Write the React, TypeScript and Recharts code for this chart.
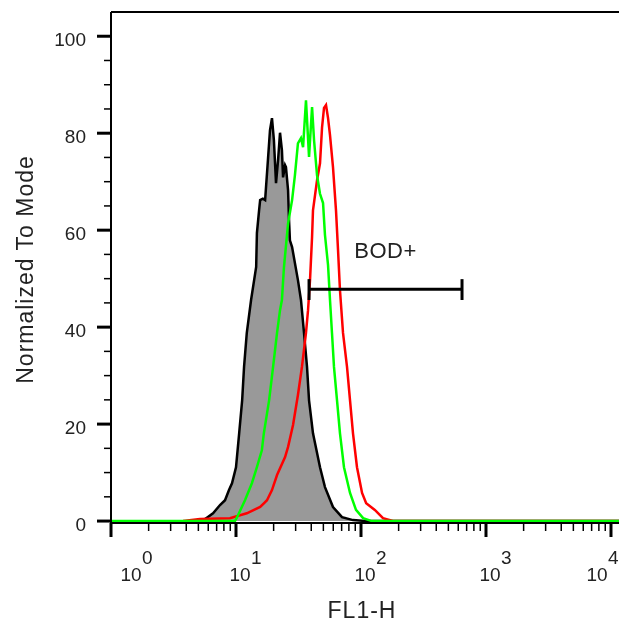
import { ComposedChart, Area, Line, XAxis, YAxis, ReferenceLine, Label } from "recharts";

const FONT = '"Liberation Sans", Arial, sans-serif';

// ---------- Data (FL1-H value -> % of mode) ----------

// unstained control, gray filled
const controlFL1 = [
    4.88, 5.65, 6.55, 7.45, 8.17, 8.79, 9.29, 10, 10.6, 11.2, 11.6, 12.2, 13.2, 14.5, 14.7,
    15.3, 15.6, 16.4, 17.1, 18.0, 18.7, 19.4, 20.1, 20.9, 21.7, 22.5, 23.3, 23.8, 24.7, 25.1,
    26.1, 26.5, 27.0, 28.1, 31.3, 33.1, 35.0, 37.0, 38.4, 41.3, 47.0, 51.5, 59.7, 70.5, 86.3,
    108, 11590,
];
const controlCount = [
    0, 0.4, 1.6, 3.3, 4.3, 6.4, 7.8, 11.1, 18.1, 24.9, 31.8, 38.8, 45.6, 52.4, 59.4,
    64.1, 66.2, 66.5, 66.2, 74.4, 80.6, 83.1, 78.6, 69.7, 74.4, 80.1, 76.5, 70.9, 73.4, 73.0,
    68.2, 62.7, 57.9, 56.5, 49.7, 45.6, 38.8, 31.8, 24.9, 18.1, 11.1, 7.0, 2.9, 0.8, 0.2,
    0, 0,
];

// green sample
const greenFL1 = [
    1, 9.82, 10.2, 11.8, 13.4, 14.7, 16.1, 16.7, 18.4, 19.8, 21.3, 22.5, 23.3, 24.2, 26.1,
    28.1, 29.6, 31.3, 33.1, 34.4, 36.3, 38.4, 40.6, 42.1, 44.5, 47.0, 49.7, 51.5, 54.5, 56.5,
    58.6, 60.8, 64.3, 67.9, 73.1, 81.7, 91.2, 104, 122, 11590,
];
const greenCount = [
    0, 0, 0.8, 4.3, 7.8, 11.1, 14.6, 18.1, 24.9, 31.8, 38.8, 43.5, 45.6, 52.4, 61.4,
    66.2, 71.3, 77.9, 79.0, 77.1, 86.8, 75.1, 85.4, 78.6, 71.3, 67.5, 65.6, 59.0, 52.8, 45.6,
    38.8, 31.8, 24.9, 18.1, 11.1, 5.8, 2.3, 0.6, 0, 0,
];

// red sample
const redFL1 = [
    3.77, 5.15, 8.95, 12.2, 15.6, 17.7, 19.4, 21.3, 24.7, 26.1, 28.6, 31.3, 33.7, 36.3, 37.7,
    39.1, 40.6, 41.3, 44.5, 47.0, 48.8, 50.6, 52.5, 54.5, 56.5, 59.7, 63.1, 65.5, 67.9, 71.8,
    77.3, 81.7, 86.3, 92.9, 102, 110, 129, 150, 180, 11590,
];
const redCount = [
    0, 0.4, 0.6, 1.6, 2.9, 4.3, 6.4, 9.5, 13.2, 15.3, 19.8, 26.0, 31.8, 38.8, 43.5,
    49.7, 58.6, 64.1, 70.3, 73.8, 81.2, 85.2, 85.8, 83.1, 79.6, 73.0, 64.1, 55.9, 47.6, 38.8,
    31.8, 24.9, 18.1, 11.1, 5.8, 3.7, 2.3, 0.6, 0, 0,
];

// BOD+ gate
const gateRange = [38.4, 643];
const gateLevel = 47.8;
const gateCap = [45.6, 49.9];

// ---------- Axes ----------

const X_DOMAIN = [1, 11590];
const Y_DOMAIN = [-0.4, 105];
const decades = [1, 10, 100, 1000, 10000];
const minorSteps = [2, 3, 4, 5, 6, 7, 8, 9];
const xTicks = [
    ...decades.slice(0, 4).flatMap(d => [d, ...minorSteps.map(m => m * d)]),
    10000,
];
const yTicks = [0, 5, 10, 15, 20, 25, 30, 35, 40, 45, 50, 55, 60, 65, 70, 75, 80, 85, 90, 95, 100];

const toPoints = (xs: number[], ys: number[]) => xs.map((x, i) => ({ fl1: x, count: ys[i] }));

const controlData = toPoints(controlFL1, controlCount);
const greenData = toPoints(greenFL1, greenCount);
const redData = toPoints(redFL1, redCount);

function XTick({ x, y, payload }: any) {
    const v = payload.value;
    const exp = Math.round(Math.log10(v));
    const major = Math.abs(Math.log10(v) - exp) < 1e-6;
    if (!major) {
        return <line x1={x} y1={y} x2={x} y2={y + 8} stroke="#000" strokeWidth={1.5} />;
    }
    // keep the first and last label inside the frame
    const cx = Math.min(Math.max(x + 4, 123), 589);
    return (
        <g>
            <line x1={x} y1={y} x2={x} y2={y + 14} stroke="#000" strokeWidth={3} />
            <text x={cx} y={y + 58} textAnchor="middle" fontSize={19} fill="#222" fontFamily={FONT}>10</text>
            <text x={cx + 11} y={y + 41} textAnchor="start" fontSize={19} fill="#222" fontFamily={FONT}>{exp}</text>
        </g>
    );
}

function YTick({ x, y, payload }: any) {
    const v = payload.value;
    const major = v % 20 === 0;
    return (
        <g>
            <line x1={x - (major ? 14 : 7)} y1={y} x2={x} y2={y} stroke="#000" strokeWidth={major ? 3 : 1.5} />
            {major && (
                <text x={x - 25} y={y + 10} textAnchor="end" fontSize={19} fill="#222" fontFamily={FONT}>{v}</text>
            )}
        </g>
    );
}

export default function App() {
    return (
        <div style={{ position: "fixed", left: 8, top: 8 }}>
            <ComposedChart width={611} height={615} margin={{ top: 4, right: 0, left: 0, bottom: 0 }}>
                <XAxis
                    type="number"
                    dataKey="fl1"
                    scale="log"
                    domain={X_DOMAIN}
                    allowDataOverflow
                    ticks={xTicks}
                    interval={0}
                    tick={<XTick />}
                    tickLine={false}
                    tickSize={0}
                    tickMargin={0}
                    height={100}
                    axisLine={{ stroke: "#000", strokeWidth: 2 }}
                >
                    <Label
                        content={({ viewBox }: any) => (
                            <text
                                x={viewBox.x + viewBox.width / 2 - 3}
                                y={viewBox.y + 95}
                                textAnchor="middle"
                                fontSize={23}
                                letterSpacing={1}
                                fill="#222"
                                fontFamily={FONT}
                            >
                                FL1-H
                            </text>
                        )}
                    />
                </XAxis>
                <YAxis
                    type="number"
                    domain={Y_DOMAIN}
                    allowDataOverflow
                    ticks={yTicks}
                    interval={0}
                    tick={<YTick />}
                    tickLine={false}
                    tickSize={0}
                    tickMargin={0}
                    width={103}
                    axisLine={{ stroke: "#000", strokeWidth: 2 }}
                >
                    <Label
                        content={({ viewBox }: any) => {
                            const lx = viewBox.x + 25;
                            const ly = viewBox.y + viewBox.height / 2 + 2;
                            return (
                                <text
                                    x={lx}
                                    y={ly}
                                    transform={`rotate(-90 ${lx} ${ly})`}
                                    textAnchor="middle"
                                    fontSize={23}
                                    letterSpacing={1}
                                    fill="#222"
                                    fontFamily={FONT}
                                >
                                    Normalized To Mode
                                </text>
                            );
                        }}
                    />
                </YAxis>

                {/* top frame */}
                <ReferenceLine y={Y_DOMAIN[1]} stroke="#000" strokeWidth={2} />

                <Area
                    data={controlData}
                    type="linear"
                    dataKey="count"
                    baseValue={0}
                    fill="#999999"
                    fillOpacity={1}
                    stroke="#000"
                    strokeWidth={2.5}
                    dot={false}
                    activeDot={false}
                    isAnimationActive={false}
                />
                <Line
                    data={redData}
                    type="linear"
                    dataKey="count"
                    stroke="#ff0000"
                    strokeWidth={2.5}
                    dot={false}
                    activeDot={false}
                    isAnimationActive={false}
                />
                <Line
                    data={greenData}
                    type="linear"
                    dataKey="count"
                    stroke="#00ff00"
                    strokeWidth={2.5}
                    dot={false}
                    activeDot={false}
                    isAnimationActive={false}
                />

                {/* gate */}
                <ReferenceLine
                    segment={[{ x: gateRange[0], y: gateLevel }, { x: gateRange[1], y: gateLevel }]}
                    stroke="#000"
                    strokeWidth={3}
                    label={{ value: "BOD+", position: "top", offset: 31, fontSize: 22, letterSpacing: 0.5, fill: "#222", fontFamily: FONT }}
                />
                <ReferenceLine
                    segment={[{ x: gateRange[0], y: gateCap[0] }, { x: gateRange[0], y: gateCap[1] }]}
                    stroke="#000"
                    strokeWidth={3}
                />
                <ReferenceLine
                    segment={[{ x: gateRange[1], y: gateCap[0] }, { x: gateRange[1], y: gateCap[1] }]}
                    stroke="#000"
                    strokeWidth={3}
                />
            </ComposedChart>
        </div>
    );
}
